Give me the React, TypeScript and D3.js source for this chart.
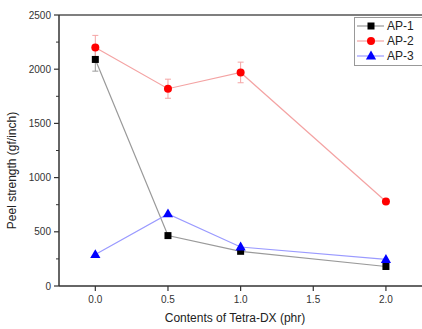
import React from "react";
import * as d3 from "d3";

const xValues = [0, 0.5, 1.0, 2.0];
const seriesNames = ["AP-1", "AP-2", "AP-3"];
const ap1 = [2090, 465, 320, 180];
const ap2 = [2200, 1820, 1970, 780];
const ap3 = [290, 665, 360, 245];
const ap1Err = [108, 0, 0, 0];
const ap2Err = [112, 88, 95, 0];
const ap3Err = [0, 0, 0, 0];
const xTicks = [0, 0.5, 1.0, 1.5, 2.0];
const yTicks = [0, 500, 1000, 1500, 2000, 2500];
const yMinorTicks = [250, 750, 1250, 1750, 2250];

const W = 422, H = 329;
const M = { left: 59, top: 15, right: 422, bottom: 286 };

const series = [
  { name: seriesNames[0], values: ap1, err: ap1Err, color: "#000000", line: "#9a9a9a", errColor: "#9a9a9a", shape: "square" },
  { name: seriesNames[1], values: ap2, err: ap2Err, color: "#ff0000", line: "#f4a3a3", errColor: "#f4a3a3", shape: "circle" },
  { name: seriesNames[2], values: ap3, err: ap3Err, color: "#0000ff", line: "#9a9aff", errColor: "#9a9aff", shape: "triangle" },
];

function Marker({ shape, x, y, color }: { shape: string; x: number; y: number; color: string }) {
  if (shape === "square") return <rect x={x - 3.5} y={y - 3.5} width={7} height={7} fill={color} />;
  if (shape === "circle") return <circle cx={x} cy={y} r={4} fill={color} />;
  const s = d3.symbol(d3.symbolTriangle, 45)();
  return <path d={s || ""} transform={`translate(${x},${y + 0.5})`} fill={color} />;
}

export default function App() {
  const x = d3.scaleLinear().domain([-0.25, 2.25]).range([M.left, 96 + 2.25 * 145]);
  const y = d3.scaleLinear().domain([0, 2500]).range([M.bottom, M.top]);
  const line = d3.line<number>().x((_, i) => x(xValues[i])).y((d) => y(d));
  const font = "'Liberation Sans', Arial, sans-serif";
  const axisColor = "#333";

  return (
    <svg width={W} height={H} style={{ position: "absolute", left: 0, top: 0, background: "#fff" }} fontFamily={font}>
      {/* frame */}
      <line x1={M.left} x2={W} y1={M.top} y2={M.top} stroke="#555" strokeWidth={1.6} />
      <line x1={M.left} x2={W} y1={M.bottom} y2={M.bottom} stroke={axisColor} strokeWidth={1.5} />
      <line x1={M.left} x2={M.left} y1={M.top} y2={M.bottom} stroke={axisColor} strokeWidth={1.5} />
      {/* y ticks */}
      {yTicks.map((t) => (
        <g key={"y" + t}>
          <line x1={M.left - 5} x2={M.left} y1={y(t)} y2={y(t)} stroke={axisColor} strokeWidth={1.2} />
          <text x={M.left - 8} y={y(t)} dy="0.35em" textAnchor="end" fontSize={10} fill="#333">{t}</text>
        </g>
      ))}
      {yMinorTicks.map((t) => (
        <line key={"ym" + t} x1={M.left - 3} x2={M.left} y1={y(t)} y2={y(t)} stroke={axisColor} strokeWidth={1} />
      ))}
      {/* x ticks */}
      {xTicks.map((t) => (
        <g key={"x" + t}>
          <line x1={x(t)} x2={x(t)} y1={M.bottom} y2={M.bottom + 5} stroke={axisColor} strokeWidth={1.2} />
          <text x={x(t)} y={M.bottom + 17} textAnchor="middle" fontSize={10} fill="#333">{t.toFixed(1)}</text>
        </g>
      ))}
      {/* axis titles */}
      <text x={235} y={322} textAnchor="middle" fontSize={12} fill="#222">Contents of Tetra-DX (phr)</text>
      <text transform={`translate(16,${(M.top + M.bottom) / 2 + 20}) rotate(-90)`} textAnchor="middle" fontSize={12} fill="#222">Peel strength (gf/inch)</text>
      {/* lines */}
      {series.map((s) => (
        <path key={"l" + s.name} d={line(s.values) || ""} fill="none" stroke={s.line} strokeWidth={1.2} />
      ))}
      {/* error bars */}
      {series.map((s) =>
        s.values.map((v, i) =>
          s.err[i] > 0 ? (
            <g key={"e" + s.name + i} stroke={s.errColor} strokeWidth={1}>
              <line x1={x(xValues[i])} x2={x(xValues[i])} y1={y(v - s.err[i])} y2={y(v + s.err[i])} />
              <line x1={x(xValues[i]) - 3} x2={x(xValues[i]) + 3} y1={y(v - s.err[i])} y2={y(v - s.err[i])} />
              <line x1={x(xValues[i]) - 3} x2={x(xValues[i]) + 3} y1={y(v + s.err[i])} y2={y(v + s.err[i])} />
            </g>
          ) : null
        )
      )}
      {/* markers */}
      {series.map((s) =>
        s.values.map((v, i) => <Marker key={"m" + s.name + i} shape={s.shape} x={x(xValues[i])} y={y(v)} color={s.color} />)
      )}
      {/* legend */}
      <rect x={354.5} y={17.5} width={80} height={48} fill="#fff" stroke="#999" strokeWidth={1} />
      {series.map((s, i) => {
        const ly = 26 + i * 15;
        return (
          <g key={"lg" + s.name}>
            <line x1={357} x2={384} y1={ly} y2={ly} stroke={s.line} strokeWidth={1.2} />
            <Marker shape={s.shape} x={371} y={ly} color={s.color} />
            <text x={387} y={ly} dy="0.35em" fontSize={12} fill="#222">{s.name}</text>
          </g>
        );
      })}
    </svg>
  );
}
